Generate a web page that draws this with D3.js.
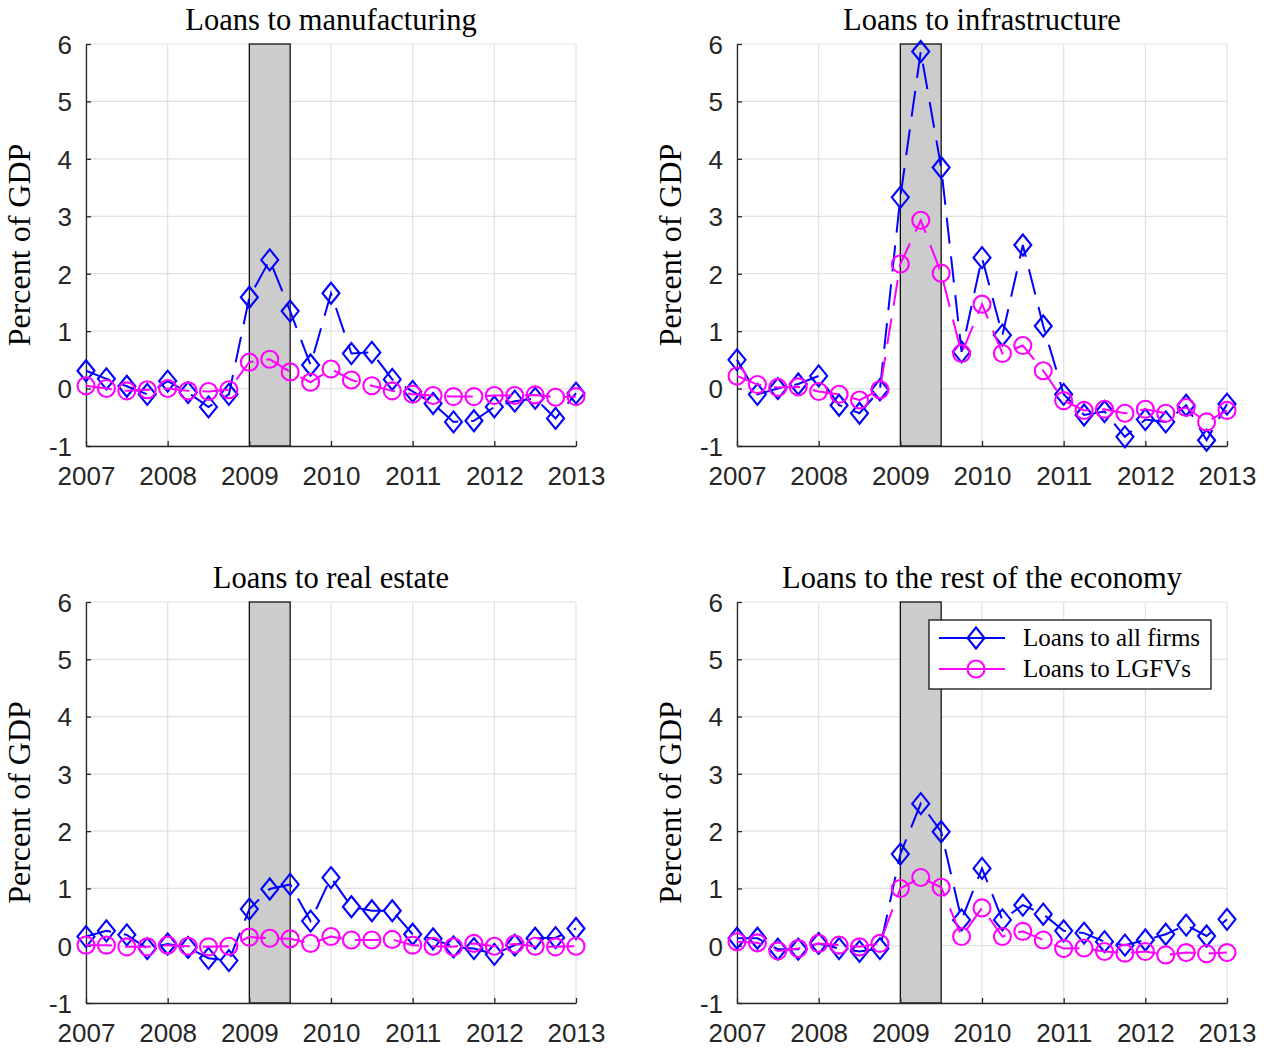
<!DOCTYPE html>
<html>
<head>
<meta charset="utf-8">
<script src="https://cdn.jsdelivr.net/npm/d3@7"></script>
<style>
  body { margin: 0; background: #fff; }
  svg { display: block; }
</style>
</head>
<body>
<script>
// quarterly dates, 2007Q1 .. 2013Q1
const dates = [2007, 2007.25, 2007.5, 2007.75, 2008, 2008.25, 2008.5, 2008.75,
  2009, 2009.25, 2009.5, 2009.75, 2010, 2010.25, 2010.5, 2010.75,
  2011, 2011.25, 2011.5, 2011.75, 2012, 2012.25, 2012.5, 2012.75, 2013];

const titles = ["Loans to manufacturing", "Loans to infrastructure",
  "Loans to real estate", "Loans to the rest of the economy"];

const seriesNames = ["Loans to all firms", "Loans to LGFVs"];

const xTicks = [2007, 2008, 2009, 2010, 2011, 2012, 2013];
const yTicks = [-1, 0, 1, 2, 3, 4, 5, 6];
const recession = [2009, 2009.5];

const manufFirms = [0.31, 0.17, 0.04, -0.1, 0.13, -0.07, -0.32, -0.1, 1.59, 2.24, 1.35, 0.41, 1.66,
  0.61, 0.63, 0.16, -0.05, -0.26, -0.58, -0.56, -0.32, -0.22, -0.17, -0.52, -0.08];
const manufLgfv = [0.05, 0.0, -0.04, -0.02, 0.0, -0.04, -0.05, -0.02, 0.46, 0.51, 0.29, 0.11, 0.34,
  0.15, 0.05, -0.04, -0.1, -0.12, -0.14, -0.14, -0.12, -0.12, -0.11, -0.15, -0.14];

const infraFirms = [0.5, -0.1, 0.0, 0.08, 0.22, -0.29, -0.43, -0.02, 3.33, 5.87, 3.85, 0.64, 2.28,
  0.93, 2.5, 1.09, -0.1, -0.46, -0.4, -0.84, -0.54, -0.58, -0.29, -0.9, -0.27];
const infraLgfv = [0.22, 0.07, 0.02, 0.03, -0.05, -0.1, -0.2, -0.02, 2.17, 2.93, 2.01, 0.61, 1.47,
  0.61, 0.75, 0.31, -0.21, -0.38, -0.36, -0.43, -0.36, -0.43, -0.33, -0.58, -0.38];

const estateFirms = [0.16, 0.26, 0.19, -0.05, 0.03, -0.03, -0.22, -0.26, 0.64, 0.99, 1.07, 0.43, 1.19,
  0.68, 0.61, 0.61, 0.2, 0.12, -0.02, -0.05, -0.15, 0.01, 0.13, 0.14, 0.3];
const estateLgfv = [0.01, 0.01, -0.02, -0.02, 0.01, -0.01, -0.02, -0.01, 0.15, 0.13, 0.12, 0.04, 0.16,
  0.1, 0.1, 0.11, 0.01, -0.01, -0.02, 0.04, -0.01, 0.03, -0.01, -0.02, -0.01];

const restFirms = [0.13, 0.13, -0.06, -0.06, 0.04, -0.05, -0.1, -0.05, 1.6, 2.48, 1.99, 0.45, 1.35,
  0.45, 0.71, 0.55, 0.26, 0.22, 0.07, 0.01, 0.1, 0.2, 0.36, 0.17, 0.46];
const restLgfv = [0.07, 0.05, -0.09, -0.05, 0.04, 0.01, -0.02, 0.04, 1.0, 1.19, 1.02, 0.16, 0.66,
  0.16, 0.25, 0.1, -0.05, -0.04, -0.1, -0.13, -0.1, -0.16, -0.12, -0.14, -0.12];

const panelData = [
  [manufFirms, manufLgfv],
  [infraFirms, infraLgfv],
  [estateFirms, estateLgfv],
  [restFirms, restLgfv]
];

const colors = ["#0000ff", "#ff00ff"];

const W = 1267, H = 1049;
const svg = d3.select("body").append("svg").attr("width", W).attr("height", H);

// panel frames (left, right, top, bottom)
const frames = [
  { x0: 86, x1: 576, y0: 44, y1: 446 },
  { x0: 737, x1: 1227, y0: 44, y1: 446 },
  { x0: 86, x1: 576, y0: 602, y1: 1003 },
  { x0: 737, x1: 1227, y0: 602, y1: 1003 }
];

const serif = "'Liberation Serif', 'DejaVu Serif', serif";
const sans = "'Liberation Sans', Arial, sans-serif";
const axisColor = "#262626";

// diamond marker, a bit taller than wide like matlab's
function diamond(g, cx, cy, color) {
  g.append("path")
    .attr("d", `M${cx},${cy - 10.5}L${cx + 8.5},${cy}L${cx},${cy + 10.5}L${cx - 8.5},${cy}Z`)
    .attr("fill", "none").attr("stroke", color).attr("stroke-width", 2.1);
}

function ring(g, cx, cy, color) {
  g.append("circle").attr("cx", cx).attr("cy", cy).attr("r", 8.5)
    .attr("fill", "none").attr("stroke", color).attr("stroke-width", 2.1);
}

frames.forEach((f, p) => {
  const x = d3.scaleLinear().domain([2007, 2013]).range([f.x0, f.x1]);
  const y = d3.scaleLinear().domain([-1, 6]).range([f.y1, f.y0]);
  const g = svg.append("g");

  // grid
  g.selectAll(".gx").data(xTicks).enter().append("line")
    .attr("x1", d => x(d)).attr("x2", d => x(d))
    .attr("y1", f.y0).attr("y2", f.y1)
    .attr("stroke", "#e1e1e1").attr("stroke-width", 1.2);
  g.selectAll(".gy").data(yTicks).enter().append("line")
    .attr("x1", f.x0).attr("x2", f.x1)
    .attr("y1", d => y(d)).attr("y2", d => y(d))
    .attr("stroke", "#e1e1e1").attr("stroke-width", 1.2);

  // recession band
  g.append("rect")
    .attr("x", x(recession[0])).attr("y", y(6))
    .attr("width", x(recession[1]) - x(recession[0]))
    .attr("height", y(-1) - y(6))
    .attr("fill", "#cccccc").attr("stroke", "#000").attr("stroke-width", 1.2);

  // axes (plain hyphen for negatives, as in the original)
  const fmt = d => String(d);
  const xAxis = d3.axisBottom(x).tickValues(xTicks).tickFormat(fmt)
    .tickSizeInner(-5).tickSizeOuter(0).tickPadding(19);
  const yAxis = d3.axisLeft(y).tickValues(yTicks).tickFormat(fmt)
    .tickSizeInner(-5).tickSizeOuter(0).tickPadding(14);

  const ax = g.append("g").attr("transform", `translate(0,${f.y1})`).call(xAxis);
  const ay = g.append("g").attr("transform", `translate(${f.x0},0)`).call(yAxis);
  [ax, ay].forEach(a => {
    a.select(".domain").attr("stroke", axisColor).attr("stroke-width", 1.3);
    a.selectAll(".tick line").attr("stroke", axisColor).attr("stroke-width", 1.3);
    a.selectAll(".tick text").attr("fill", axisColor)
      .style("font-family", sans).style("font-size", "26px");
  });
  ax.selectAll(".tick text").attr("dy", "0.75em");
  ay.selectAll(".tick text").attr("dy", "0.36em");

  // title
  g.append("text")
    .attr("x", (f.x0 + f.x1) / 2).attr("y", f.y0 - 14)
    .attr("text-anchor", "middle")
    .style("font-family", serif).style("font-size", "30.5px").attr("fill", "#000")
    .text(titles[p]);

  // y label
  g.append("text")
    .attr("transform", `translate(${f.x0 - 56},${(f.y0 + f.y1) / 2}) rotate(-90)`)
    .attr("text-anchor", "middle")
    .style("font-family", serif).style("font-size", "32px").attr("fill", "#000")
    .text("Percent of GDP");

  // series
  const line = d3.line().x((d, i) => x(dates[i])).y(d => y(d));
  panelData[p].forEach((vals, s) => {
    g.append("path")
      .attr("d", line(vals))
      .attr("fill", "none").attr("stroke", colors[s]).attr("stroke-width", 2)
      .attr("stroke-dasharray", "26,13");
    vals.forEach((v, i) => {
      if (s === 0) diamond(g, x(dates[i]), y(v), colors[s]);
      else ring(g, x(dates[i]), y(v), colors[s]);
    });
  });

  // legend in last panel
  if (p === 3) {
    const lg = g.append("g");
    lg.append("rect").attr("x", 929).attr("y", 620).attr("width", 282).attr("height", 69)
      .attr("fill", "#fff").attr("stroke", "#000").attr("stroke-width", 1.2);
    seriesNames.forEach((name, s) => {
      const cy = 638 + s * 31;
      lg.append("line").attr("x1", 939).attr("x2", 1005).attr("y1", cy).attr("y2", cy)
        .attr("stroke", colors[s]).attr("stroke-width", 2);
      if (s === 0) diamond(lg, 976, cy, colors[s]);
      else ring(lg, 976, cy, colors[s]);
      lg.append("text").attr("x", 1023).attr("y", cy + 8)
        .style("font-family", serif).style("font-size", "25px").attr("fill", "#000")
        .text(name);
    });
  }
});
</script>
</body>
</html>
